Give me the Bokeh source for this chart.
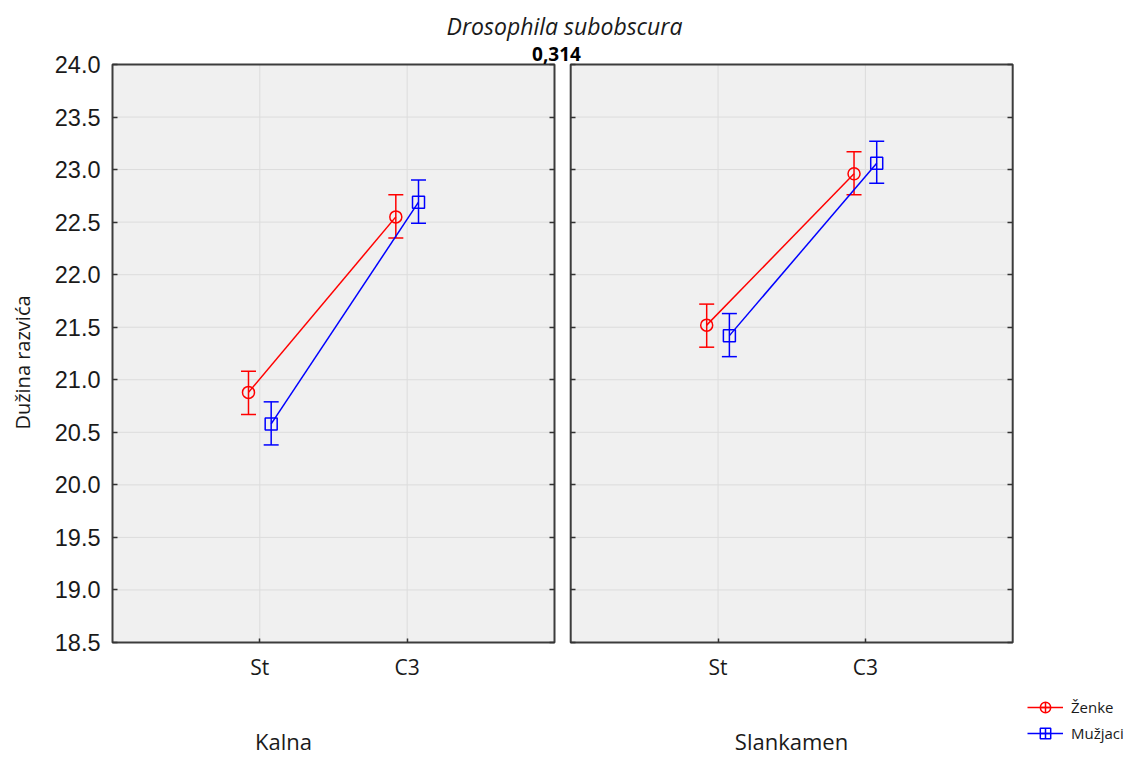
import math
from bokeh.plotting import figure
from bokeh.models import (Range1d, FixedTicker, LinearAxis, Legend, LegendItem,
                          NumeralTickFormatter)
from bokeh.core.properties import value
from bokeh.embed import file_html
from bokeh.resources import INLINE

# ---------------- data ----------------
title_text = "Drosophila subobscura"
stat_text = "0,314"
y_label = "Dužina razvića"
localities = ["Kalna", "Slankamen"]
groups = ["St", "C3"]
series_names = ["Ženke", "Mužjaci"]
series_colors = ["#ff0000", "#0000ff"]
series_markers = ["circle", "square"]
legend_markers = ["circle_cross", "square_cross"]

# order: Kalna St, Kalna C3, Slankamen St, Slankamen C3
zenke_mean = [20.88, 22.55, 21.52, 22.96]
zenke_low = [20.67, 22.35, 21.31, 22.76]
zenke_high = [21.08, 22.76, 21.72, 23.17]
muzjaci_mean = [20.58, 22.69, 21.42, 23.06]
muzjaci_low = [20.38, 22.49, 21.22, 22.87]
muzjaci_high = [20.79, 22.90, 21.63, 23.27]

y_ticks = [18.5, 19.0, 19.5, 20.0, 20.5, 21.0, 21.5, 22.0, 22.5, 23.0, 23.5, 24.0]

# ---------------- layout (pixels) ----------------
W, H = 1134, 767
PX_LEFT, PX_TOP, PX_BOTTOM = 112, 64, 642     # panel 1 left edge, top (24.0), bottom (18.5)
PX_PANEL_W = 442
PANEL_W = 3.0
GAP = 0.11
panel_start = [0.0, PANEL_W + GAP]
panel_end = [s + PANEL_W for s in panel_start]
OFFS = [-0.077, 0.077]
Y0, Y1 = y_ticks[0], y_ticks[-1]
SX = PX_PANEL_W / PANEL_W
SY = (PX_BOTTOM - PX_TOP) / (Y1 - Y0)
NAN = float("nan")


def dx(px):
    return (px - PX_LEFT) / SX


def dy(py):
    return Y1 - (py - PX_TOP) / SY


cat_x = []
cat_lbl = {}
for i, loc in enumerate(localities):
    for j, g in enumerate(groups):
        xv = panel_start[i] + 1 + j
        cat_x.append(xv)
        cat_lbl[xv] = g

p = figure(width=W, height=H, output_backend="svg", toolbar_location=None,
           x_range=Range1d(dx(0), dx(W)), y_range=Range1d(dy(H), dy(0)),
           min_border=0, min_border_left=0, min_border_right=0,
           min_border_top=0, min_border_bottom=0,
           background_fill_color="white", border_fill_color="white")
p.outline_line_color = None
p.xgrid.visible = False
p.ygrid.visible = False

# panel backgrounds
p.quad(left=panel_start, right=panel_end, bottom=[Y0] * 2, top=[Y1] * 2,
       fill_color="#f0f0f0", line_color=None)

# grid lines
gx0, gx1, gy = [], [], []
for s, e in zip(panel_start, panel_end):
    for t in y_ticks[1:-1]:
        gx0.append(s); gx1.append(e); gy.append(t)
p.segment(x0=gx0, y0=gy, x1=gx1, y1=gy, line_color="#dcdcdc", line_width=1)
p.segment(x0=cat_x, y0=[Y0] * len(cat_x), x1=cat_x, y1=[Y1] * len(cat_x),
          line_color="#dcdcdc", line_width=1)

# panel borders
p.quad(left=panel_start, right=panel_end, bottom=[Y0] * 2, top=[Y1] * 2,
       fill_color=None, line_color="#3c3c3c", line_width=2)

series = [(zenke_mean, zenke_low, zenke_high), (muzjaci_mean, muzjaci_low, muzjaci_high)]
legend_items = []
for k, (m, lo, hi) in enumerate(series):
    col = series_colors[k]
    xs = [x + OFFS[k] for x in cat_x]
    for i in range(len(localities)):
        a, b = 2 * i, 2 * i + 2
        p.line(xs[a:b], m[a:b], line_color=col, line_width=1.5)
    p.segment(x0=xs, y0=lo, x1=xs, y1=hi, line_color=col, line_width=1.5)
    p.scatter(xs + xs, lo + hi, marker="dash", size=15, line_color=col, line_width=1.5)
    p.scatter(xs, m, marker=series_markers[k], size=12, line_color=col, line_width=1.5,
              fill_color=None)
    # legend-only renderers (nothing visible in the plot)
    rl = p.line([NAN, NAN], [NAN, NAN], line_color=col, line_width=1.5)
    rm = p.scatter([NAN], [NAN], marker=legend_markers[k], size=12, line_color=col,
                   line_width=1.5, fill_color=None)
    legend_items.append(LegendItem(label=series_names[k], renderers=[rl, rm]))


# ---------------- axes ----------------
def style_axis(ax):
    ax.axis_line_color = None
    ax.major_tick_in = 5
    ax.major_tick_out = 0
    ax.minor_tick_line_color = None
    ax.major_tick_line_color = "#333333"
    ax.major_tick_line_width = 1.5


blank = {t: "" for t in y_ticks}

yax = p.yaxis[0]
yax.fixed_location = panel_start[0]
yax.ticker = FixedTicker(ticks=y_ticks)
yax.formatter = NumeralTickFormatter(format="0.0")
style_axis(yax)
yax.major_label_text_font = "Liberation Sans"
yax.major_label_text_font_size = "23.5px"
yax.major_label_text_color = "#1a1a1a"
yax.major_label_standoff = 12

xax = p.xaxis[0]
xax.fixed_location = Y0
xax.ticker = FixedTicker(ticks=cat_x)
xax.major_label_overrides = cat_lbl
style_axis(xax)
xax.major_tick_in = 4
xax.major_label_text_font = "Open Sans"
xax.major_label_text_font_size = "21px"
xax.major_label_text_color = "#1a1a1a"
xax.major_label_standoff = 10

# inward ticks on the other panel edges
for loc, side in [(panel_end[0], "right"), (panel_start[1], "left"), (panel_end[1], "right")]:
    ax = LinearAxis(ticker=FixedTicker(ticks=y_ticks), fixed_location=loc,
                    major_label_overrides=blank)
    style_axis(ax)
    p.add_layout(ax, side)

# ---------------- texts ----------------
txt = dict(text_font=value("Open Sans"), text_color="#1a1a1a",
           text_align="center", text_baseline="middle")
p.text(x=[dx(22)], y=[dy(362)], text=[y_label], angle=math.pi / 2,
       text_font_size="20px", **txt)
p.text(x=[dx(564)], y=[dy(25)], text=[title_text], text_font_style="italic",
       text_font_size="23px", **txt)
p.text(x=[dx(556)], y=[dy(53)], text=[stat_text], text_font_style="bold",
       text_font_size="19px", text_font=value("Open Sans"), text_color="#000000",
       text_align="center", text_baseline="middle")
p.text(x=[dx(283), dx(791)], y=[dy(740)] * 2, text=localities,
       text_font_size="22px", **txt)

legend = Legend(items=legend_items, location=(1027, H - 746), orientation="vertical",
                glyph_width=36, glyph_height=26, label_height=26, spacing=0, padding=0,
                margin=0, label_standoff=8, border_line_color=None,
                background_fill_alpha=0, label_text_font="Open Sans",
                label_text_font_size="15px", label_text_color="#1a1a1a")
p.add_layout(legend, "center")

open("out.html", "w").write(file_html(p, INLINE))
